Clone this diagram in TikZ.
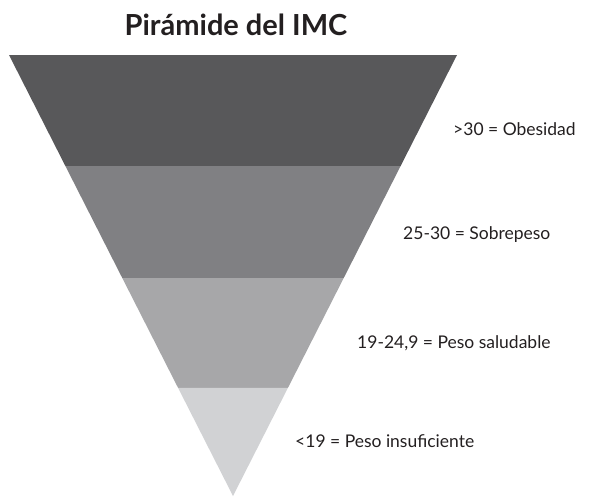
\documentclass[tikz,border=0pt]{standalone}
\usepackage{fontspec}
\setmainfont{Lato}
\usetikzlibrary{calc}
\definecolor{bandA}{HTML}{58585A}
\definecolor{bandB}{HTML}{808083}
\definecolor{bandC}{HTML}{A7A7A9}
\definecolor{bandD}{HTML}{D1D2D4}
\definecolor{txt}{HTML}{231F20}
\tikzset{
  lbl/.style={anchor=west, inner sep=0pt, text=txt, font=\fontsize{17.5}{20}\selectfont},
  ttl/.style={inner sep=0pt, text=txt, font=\fontsize{29}{34}\selectfont\bfseries},
}
\begin{document}
\begin{tikzpicture}[x=1pt,y=-1pt]
\useasboundingbox (0,0) rectangle (591,498);
\coordinate (tl) at (9,55);
\coordinate (tr) at (457,55);
\coordinate (ap) at (233,496);
\coordinate (l1) at ($(tl)!0.2517!(ap)$);
\coordinate (r1) at ($(tr)!0.2517!(ap)$);
\coordinate (l2) at ($(tl)!0.5057!(ap)$);
\coordinate (r2) at ($(tr)!0.5057!(ap)$);
\coordinate (l3) at ($(tl)!0.755!(ap)$);
\coordinate (r3) at ($(tr)!0.755!(ap)$);
\fill[bandA] (tl) -- (tr) -- (r1) -- (l1) -- cycle;
\fill[bandB] (l1) -- (r1) -- (r2) -- (l2) -- cycle;
\fill[bandC] (l2) -- (r2) -- (r3) -- (l3) -- cycle;
\fill[bandD] (l3) -- (r3) -- (ap) -- cycle;
\node[ttl] (title) at (236,25) {Pirámide del IMC};
\node[lbl] (t1) at (453,129) {>30 = Obesidad};
\node[lbl] (t2) at (403,235) {25-30 = Sobrepeso};
\node[lbl] (t3) at (357,343) {19-24,9 = Peso saludable};
\node[lbl] (t4) at (295,441) {<19 = Peso insuficiente};
\end{tikzpicture}
\end{document}
